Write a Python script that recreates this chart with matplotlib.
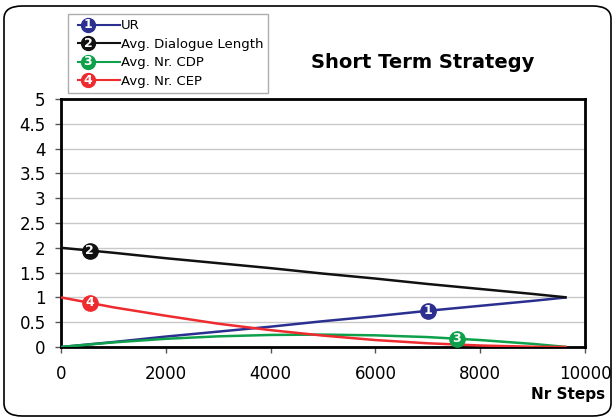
import matplotlib
matplotlib.use("Agg")
import matplotlib.pyplot as plt
import numpy as np
from matplotlib.lines import Line2D
from matplotlib.text import Text
from matplotlib.legend_handler import HandlerBase
from matplotlib.patches import FancyBboxPatch

plt.rcParams['font.family'] = ['DejaVu Sans']

# Data
steps = [0, 1000, 2000, 3000, 4000, 5000, 6000, 7000, 8000, 9000, 9650]
ur = [0, 0.10, 0.21, 0.31, 0.41, 0.52, 0.62, 0.73, 0.83, 0.93, 1.0]
dlg_len = [2, 1.90, 1.79, 1.69, 1.59, 1.48, 1.38, 1.27, 1.17, 1.07, 1.0]
nr_cdp = [0, 0.093, 0.165, 0.215, 0.243, 0.25, 0.235, 0.20, 0.14, 0.063, 0]
nr_cep = [1, 0.80, 0.63, 0.47, 0.34, 0.23, 0.14, 0.075, 0.03, 0.005, 0]

series_names = ["UR", "Avg. Dialogue Length", "Avg. Nr. CDP", "Avg. Nr. CEP"]
series_vals = [ur, dlg_len, nr_cdp, nr_cep]
series_nums = ["1", "2", "3", "4"]
colors = ["#2B2F8F", "#111111", "#0EA04B", "#EE2B2E"]
label_steps = [7000, 550, 7550, 550]  # x-positions of numbered markers
yticks = [0, 0.5, 1, 1.5, 2, 2.5, 3, 3.5, 4, 4.5, 5]
yticklabels = ["0", "0.5", "1", "1.5", "2", "2.5", "3", "3.5", "4", "4.5", "5"]
xticks = [0, 2000, 4000, 6000, 8000, 10000]

fig = plt.figure(figsize=(6.15, 4.2), dpi=100)
ax = fig.add_axes([61/615, 1-347/420, (585-61)/615, (347-99)/420])

# outer rounded frame
frame = FancyBboxPatch((4/615, 4/420), 607/615, 410/420,
                       boxstyle="round,pad=0,rounding_size=0.03",
                       transform=fig.transFigure, fill=False,
                       edgecolor="black", linewidth=1.2, zorder=-1)
fig.patches.append(frame)

lines = []
for name, vals, col, num, lx in zip(series_names, series_vals, colors, series_nums, label_steps):
    ln, = ax.plot(steps, vals, color=col, linewidth=1.8, label=name, zorder=3,
                  solid_capstyle='butt')
    lines.append(ln)
    ly = float(np.interp(lx, steps, vals))
    ax.plot([lx], [ly], marker='o', markersize=11, color=col, markeredgecolor=col,
            zorder=4, linestyle='none')
    ax.text(lx, ly, num, color='white', fontsize=9, fontweight='bold',
            ha='center', va='center', zorder=5)

ax.set_xlim(0, 10000)
ax.set_ylim(0, 5)
ax.set_xticks(xticks)
ax.set_yticks(yticks)
ax.set_yticklabels(yticklabels)
ax.tick_params(axis='both', labelsize=12, direction='out', length=4, width=1, color='#555555')
ax.tick_params(axis='x', pad=9)
ax.tick_params(axis='y', pad=7)
ax.grid(axis='y', color='#C8C8C8', linewidth=1)
ax.set_axisbelow(True)
for sp in ax.spines.values():
    sp.set_linewidth(2)
    sp.set_color('black')

fig.text(423/615, 1-63/420, "Short Term Strategy", fontsize=14, fontweight='bold',
         ha='center', va='center')
fig.text(605/615, 1-395/420, "Nr Steps", fontsize=11, fontweight='bold',
         ha='right', va='center')


class NumHandler(HandlerBase):
    def __init__(self, num):
        super().__init__()
        self.num = num

    def create_artists(self, legend, orig_handle, xdescent, ydescent, width, height,
                       fontsize, trans):
        col = orig_handle.get_color()
        y = height / 2 - ydescent
        x0 = -xdescent
        ln = Line2D([x0 + 3.4, x0 + width], [y, y], color=col, linewidth=1.5,
                    transform=trans)
        cx = x0 + 10.6
        mk = Line2D([cx], [y], marker='o', markersize=10, color=col, linestyle='none',
                    transform=trans)
        tx = Text(cx, y, self.num, color='white', fontsize=9, fontweight='bold',
                  ha='center', va='center', transform=trans)
        return [ln, mk, tx]


leg = fig.legend(handles=lines, labels=series_names,
                 handler_map={ln: NumHandler(n) for ln, n in zip(lines, series_nums)},
                 loc='upper left', bbox_to_anchor=(68/615, 1-14/420),
                 fontsize=9.5, frameon=True, fancybox=False, handlelength=3.54,
                 handletextpad=0.05, labelspacing=0.42, borderpad=0.4,
                 borderaxespad=0)
leg.get_frame().set_edgecolor('#999999')
leg.get_frame().set_linewidth(1)

fig.savefig("out.png", dpi=100)
